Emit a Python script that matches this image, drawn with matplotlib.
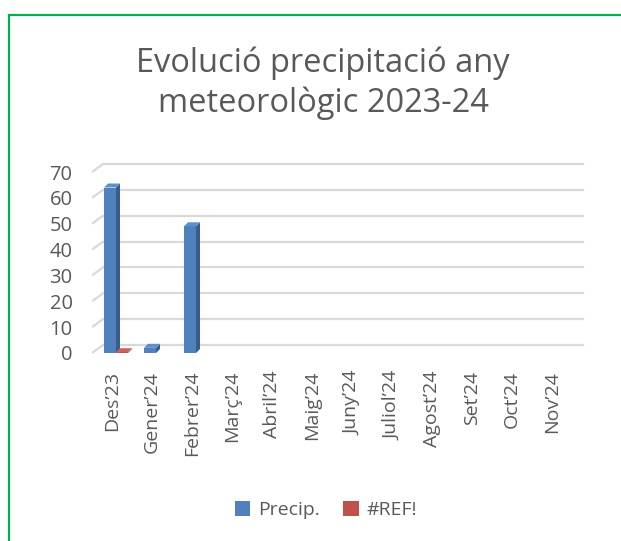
import matplotlib
matplotlib.use("Agg")
import matplotlib.pyplot as plt
from matplotlib.patches import Rectangle, Polygon

plt.rcParams['font.family'] = ['Open Sans', 'DejaVu Sans']

months = ["Des’23", "Gener’24", "Febrer’24", "Març’24", "Abril’24", "Maig’24",
          "Juny’24", "Juliol’24", "Agost’24", "Set’24", "Oct’24", "Nov’24"]
precip = [64, 2, 49, 0, 0, 0, 0, 0, 0, 0, 0, 0]
ref = [0.3, None, None, None, None, None, None, None, None, None, None, None]
yticks = [0, 10, 20, 30, 40, 50, 60, 70]

BLUE = "#4f81bd"; BLUE_SIDE = "#385d8a"; BLUE_TOP = "#5b8fd0"
RED = "#c0504d"; RED_SIDE = "#8c3836"; RED_TOP = "#d0605d"
GRID = "#d9d9d9"; TXT = "#595959"

W, H = 621, 541
fig = plt.figure(figsize=(W / 100, H / 100), dpi=100)

# green border (right and bottom edges fall outside the image)
fig.patches.append(Rectangle((9 / W, -0.1), 1, 1.1 - 15 / H, transform=fig.transFigure,
                             fill=False, edgecolor="#00b050", linewidth=1.6, clip_on=False))

ppu = (353 - 172) / 70.0  # pixels per unit
ylo, yhi = -2, 76
bot_pix = 353 + ppu * (-ylo)
top_pix = 353 - ppu * yhi
xlo, xhi = -0.5, 11.9
left_pix = 92
right_pix = left_pix + (xhi - xlo) * 40
ax = fig.add_axes([left_pix / W, (H - bot_pix) / H, (right_pix - left_pix) / W,
                   (bot_pix - top_pix) / H])
ax.set_xlim(xlo, xhi)
ax.set_ylim(ylo, yhi)
for s in ax.spines.values():
    s.set_visible(False)

# gridlines (3D back wall)
gdx = 11 / 40.0
gdy = 8 / ppu
for v in yticks:
    ax.plot([-0.5, -0.5 + gdx], [v, v + gdy], color=GRID, lw=1.6, zorder=1, solid_capstyle='butt')
    ax.plot([-0.5 + gdx, 11.5 + gdx], [v + gdy, v + gdy], color=GRID, lw=1.6, zorder=1)

bdx = 4 / 40.0
bdy = 4 / ppu
bw = 0.3

def bar3d(x0, v, front, side, top):
    x1 = x0 + bw
    ax.add_patch(Rectangle((x0, 0), bw, v, facecolor=front, edgecolor='none', zorder=3))
    ax.add_patch(Polygon([(x1, 0), (x1 + bdx, bdy), (x1 + bdx, v + bdy), (x1, v)],
                         closed=True, facecolor=side, edgecolor='none', zorder=3))
    ax.add_patch(Polygon([(x0, v), (x0 + bdx, v + bdy), (x1 + bdx, v + bdy), (x1, v)],
                         closed=True, facecolor=top, edgecolor='none', zorder=3))

for i, v in enumerate(precip):
    if v:
        bar3d(i - 0.2, v, BLUE, BLUE_SIDE, BLUE_TOP)
for i, v in enumerate(ref):
    if v is not None:
        bar3d(i + 0.1, v, RED, RED_SIDE, RED_TOP)

ax.set_yticks(yticks)
ax.set_yticklabels([str(t) for t in yticks], fontsize=14.5, color=TXT)
ax.set_xticks(range(len(months)))
ax.set_xticklabels(months, rotation=90, fontsize=14, color=TXT, va='top', ha='center')
ax.tick_params(axis='y', length=0, pad=14)
ax.tick_params(axis='x', length=0, pad=9)

fig.text(323 / W, 1 - 83 / H, "Evolució precipitació any\nmeteorològic 2023-24",
         ha='center', va='center', fontsize=23.5, color=TXT, linespacing=1.25)

handles = [Rectangle((0, 0), 1, 1, facecolor=BLUE), Rectangle((0, 0), 1, 1, facecolor=RED)]
fig.legend(handles, ["Precip.", "#REF!"], loc='center', bbox_to_anchor=(326 / W, 1 - 510 / H),
           ncol=2, frameon=False, fontsize=14, labelcolor=TXT, handlelength=0.8,
           handleheight=0.8, handletextpad=0.4, columnspacing=1.2)

fig.savefig("out.png", dpi=100)
